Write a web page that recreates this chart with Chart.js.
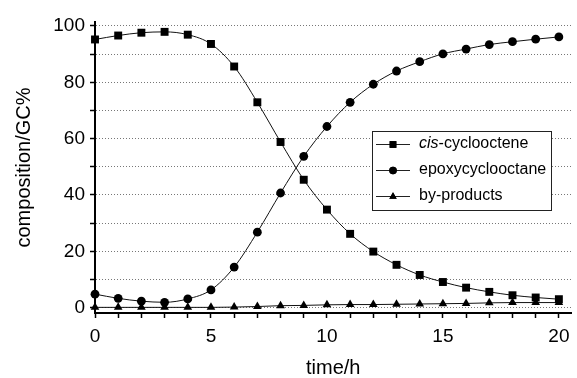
<!DOCTYPE html>
<html>
<head>
<meta charset="utf-8">
<script src="https://cdn.jsdelivr.net/npm/chart.js@4/dist/chart.umd.min.js"></script>
<style>
  html, body { margin: 0; padding: 0; background: #fff; }
  #wrap { width: 577px; height: 378px; }
</style>
</head>
<body>
<div id="wrap"><canvas id="grafico"></canvas></div>
<script>
// datos
const tiempos = [0,1,2,3,4,5,6,7,8,9,10,11,12,13,14,15,16,17,18,19,20];
const cisCiclooctano = [95.2,96.6,97.6,97.9,96.9,93.6,85.6,72.9,58.8,45.4,34.8,26.2,19.9,15.2,11.6,9.1,7.1,5.6,4.4,3.6,3.0];
const epoxido = [4.8,3.3,2.3,1.9,3.1,6.3,14.4,26.8,40.7,53.7,64.3,72.9,79.3,84.0,87.3,90.1,91.8,93.4,94.4,95.3,96.1];
const subproductos = [0.1,0.1,0.1,0.1,0.1,0.1,0.2,0.4,0.7,0.8,1.0,1.1,1.1,1.2,1.3,1.4,1.5,1.7,1.8,1.8,1.8];
const etiquetasX = [0,5,10,15,20];
const etiquetasY = [0,20,40,60,80,100];

function puntos(valores) {
  return tiempos.map((t, i) => ({ x: t, y: valores[i] }));
}

// leyenda dentro del area del grafico
const leyendaPlugin = {
  id: 'leyendaCaja',
  afterDraw(chart) {
    const ctx = chart.ctx;
    const x0 = 372, y0 = 131, w = 179, h = 79;
    ctx.save();
    ctx.fillStyle = '#fff';
    ctx.fillRect(x0, y0, w, h);
    ctx.strokeStyle = '#222';
    ctx.lineWidth = 1;
    ctx.strokeRect(x0 + 0.5, y0 + 0.5, w, h);
    const filas = [
      { pre: 'cis', texto: '-cyclooctene', ds: 0 },
      { pre: '', texto: 'epoxycyclooctane', ds: 1 },
      { pre: '', texto: 'by-products', ds: 2 }
    ];
    filas.forEach((f, i) => {
      const y = y0 + 13 + i * 26;
      const ds = chart.data.datasets[f.ds];
      ctx.strokeStyle = '#222';
      ctx.beginPath();
      ctx.moveTo(x0 + 4, y + 0.5);
      ctx.lineTo(x0 + 38, y + 0.5);
      ctx.stroke();
      ctx.fillStyle = '#000';
      Chart.helpers.drawPoint(ctx, {
        pointStyle: ds.pointStyle,
        radius: ds.pointRadius * 0.85,
        rotation: 0,
        borderWidth: 0
      }, x0 + 21, y + 0.5);
      ctx.fill();
      ctx.textBaseline = 'middle';
      ctx.textAlign = 'left';
      let xt = x0 + 47;
      if (f.pre) {
        ctx.font = 'italic 16px "Liberation Sans", Arial, sans-serif';
        ctx.fillText(f.pre, xt, y);
        xt += ctx.measureText(f.pre).width;
      }
      ctx.font = '16px "Liberation Sans", Arial, sans-serif';
      ctx.fillText(f.texto, xt, y);
    });
    ctx.restore();
  }
};

const fuenteTicks = { family: '"Liberation Sans", Arial, sans-serif', size: 19 };
const fuenteTitulo = { family: '"Liberation Sans", Arial, sans-serif', size: 20 };

new Chart(document.getElementById('grafico'), {
  type: 'line',
  data: {
    datasets: [
      {
        label: 'cis-cyclooctene',
        data: puntos(cisCiclooctano),
        pointStyle: 'rect',
        pointRadius: 5.6
      },
      {
        label: 'epoxycyclooctane',
        data: puntos(epoxido),
        pointStyle: 'circle',
        pointRadius: 4.4
      },
      {
        label: 'by-products',
        data: puntos(subproductos),
        pointStyle: 'triangle',
        pointRadius: 5
      }
    ].map(d => Object.assign(d, {
      borderColor: '#111',
      backgroundColor: '#000',
      borderWidth: 1,
      pointBorderWidth: 0,
      pointBackgroundColor: '#000',
      cubicInterpolationMode: 'monotone',
      clip: false
    }))
  },
  options: {
    responsive: true,
    maintainAspectRatio: false,
    animation: false,
    events: [],
    layout: { padding: { top: 22, right: 0, left: 0, bottom: 0 } },
    plugins: {
      legend: { display: false },
      tooltip: { enabled: false }
    },
    scales: {
      x: {
        type: 'linear',
        min: 0,
        max: 20.54,
        afterFit(scale) { scale.height = 65; },
        afterBuildTicks(scale) { scale.ticks = tiempos.map(v => ({ value: v })); },
        ticks: {
          color: '#000',
          font: fuenteTicks,
          padding: 7,
          autoSkip: false,
          maxRotation: 0,
          callback: v => etiquetasX.includes(v) ? String(v) : ''
        },
        grid: {
          drawOnChartArea: false,
          drawTicks: true,
          tickLength: 5,
          tickColor: '#000',
          tickWidth: 1.5
        },
        border: { color: '#000', width: 2 },
        title: {
          display: true,
          text: 'time/h',
          color: '#000',
          font: fuenteTitulo,
          padding: { top: 0, bottom: -2 }
        }
      },
      y: {
        type: 'linear',
        min: -1.9,
        max: 101.4,
        afterFit(scale) { scale.width = 95; },
        afterBuildTicks(scale) {
          scale.ticks = [0,10,20,30,40,50,60,70,80,90,100].map(v => ({ value: v }));
        },
        ticks: {
          color: '#000',
          font: fuenteTicks,
          padding: 5,
          callback: v => etiquetasY.includes(v) ? String(v) : ''
        },
        grid: {
          color: '#777',
          lineWidth: 1,
          drawTicks: true,
          tickLength: 5,
          tickColor: '#000',
          tickWidth: 1.5
        },
        border: { color: '#000', width: 2, dash: [1, 2] },
        title: {
          display: true,
          text: 'composition/GC%',
          color: '#000',
          font: fuenteTitulo,
          padding: { top: 12, bottom: 0 }
        }
      }
    }
  },
  plugins: [leyendaPlugin]
});
</script>
</body>
</html>
